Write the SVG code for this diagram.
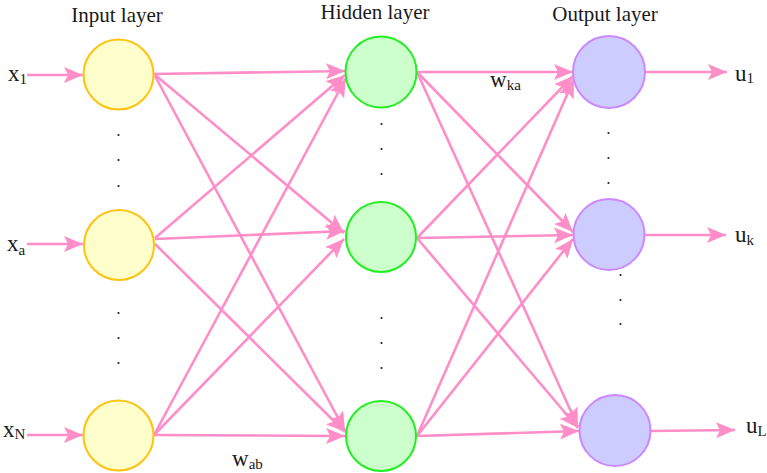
<svg xmlns="http://www.w3.org/2000/svg" width="767" height="473" viewBox="0 0 767 473">
<defs>
<marker id="ah" markerUnits="userSpaceOnUse" markerWidth="22" markerHeight="18" refX="19" refY="8" orient="auto">
<path d="M0,0 L19,8 L0,16 L4,8 z" fill="#FF8DC8"/>
</marker>
<style>
.c{stroke:#FF8DC8;stroke-width:2.6;fill:none;marker-end:url(#ah)}
.in{fill:#FFFFCC;stroke:#FFC20E;stroke-width:2}
.hid{fill:#CCFFCC;stroke:#22EE22;stroke-width:2}
.out{fill:#CCCCFF;stroke:#CC88FF;stroke-width:2}
.t{font-family:"Liberation Serif","Times New Roman",serif;fill:#1a1a1a}
.h{font-size:21px}
.m{font-size:23px}
.s{font-size:15px}
.d{fill:#222}
</style>
</defs>
<rect width="767" height="473" fill="#fff"/>
<g id="connectors">
<line class="c" x1="27" y1="75" x2="83" y2="75"/>
<line class="c" x1="27" y1="244" x2="83" y2="244"/>
<line class="c" x1="27" y1="435" x2="83" y2="435"/>
<line class="c" x1="154" y1="74" x2="345" y2="71"/>
<line class="c" x1="154" y1="74" x2="344" y2="233"/>
<line class="c" x1="154" y1="74" x2="345" y2="431"/>
<line class="c" x1="155" y1="238" x2="345" y2="75"/>
<line class="c" x1="155" y1="239" x2="345" y2="231"/>
<line class="c" x1="155" y1="244" x2="345" y2="432"/>
<line class="c" x1="154" y1="435" x2="346" y2="78"/>
<line class="c" x1="154" y1="435" x2="344" y2="239"/>
<line class="c" x1="154" y1="435" x2="345" y2="436"/>
<line class="c" x1="417" y1="72" x2="573" y2="72"/>
<line class="c" x1="417" y1="72" x2="573" y2="232"/>
<line class="c" x1="417" y1="72" x2="578" y2="427"/>
<line class="c" x1="417" y1="238" x2="573" y2="76"/>
<line class="c" x1="417" y1="238" x2="573" y2="235"/>
<line class="c" x1="417" y1="238" x2="578" y2="428"/>
<line class="c" x1="417" y1="436" x2="574" y2="79"/>
<line class="c" x1="417" y1="436" x2="573" y2="239"/>
<line class="c" x1="417" y1="436" x2="579" y2="431"/>
<line class="c" x1="645" y1="72" x2="727" y2="72"/>
<line class="c" x1="645" y1="235" x2="726" y2="235"/>
<line class="c" x1="651" y1="431" x2="735" y2="430"/>
</g>
<g id="input1"><circle class="in" cx="118.5" cy="74.5" r="35"/></g>
<g id="inputa"><circle class="in" cx="119" cy="245" r="35"/></g>
<g id="inputN"><circle class="in" cx="118.5" cy="435.5" r="35"/></g>
<g id="hidden1"><circle class="hid" cx="381" cy="72" r="35.5"/></g>
<g id="hidden2"><circle class="hid" cx="381" cy="237" r="35"/></g>
<g id="hidden3"><circle class="hid" cx="381" cy="436" r="35"/></g>
<g id="output1"><circle class="out" cx="609" cy="72" r="36"/></g>
<g id="outputk"><circle class="out" cx="609" cy="234.5" r="35.5"/></g>
<g id="outputL"><circle class="out" cx="615" cy="430.5" r="35.5"/></g>
<g id="dots">
<circle class="d" cx="118.5" cy="135" r="1.1"/>
<circle class="d" cx="118.5" cy="160" r="1.1"/>
<circle class="d" cx="118.5" cy="186" r="1.1"/>
<circle class="d" cx="118.5" cy="313" r="1.1"/>
<circle class="d" cx="118.5" cy="338" r="1.1"/>
<circle class="d" cx="118.5" cy="363" r="1.1"/>
<circle class="d" cx="381.5" cy="124" r="1.1"/>
<circle class="d" cx="381.5" cy="149" r="1.1"/>
<circle class="d" cx="381.5" cy="174" r="1.1"/>
<circle class="d" cx="381.5" cy="318" r="1.1"/>
<circle class="d" cx="381.5" cy="343" r="1.1"/>
<circle class="d" cx="381.5" cy="368" r="1.1"/>
<circle class="d" cx="608.5" cy="133" r="1.1"/>
<circle class="d" cx="608.5" cy="158" r="1.1"/>
<circle class="d" cx="608.5" cy="183" r="1.1"/>
<circle class="d" cx="620.5" cy="275" r="1.1"/>
<circle class="d" cx="620.5" cy="300" r="1.1"/>
<circle class="d" cx="620.5" cy="324" r="1.1"/>
</g>
<g id="labels">
<text class="t h" x="117" y="22" text-anchor="middle">Input layer</text>
<text class="t h" x="375" y="19" text-anchor="middle">Hidden layer</text>
<text class="t h" x="605" y="21" text-anchor="middle">Output layer</text>
<text class="t m" x="8" y="81">x<tspan class="s" dy="3">1</tspan></text>
<text class="t m" x="7" y="251">x<tspan class="s" dy="4">a</tspan></text>
<text class="t m" x="3" y="437">x<tspan class="s" dy="2">N</tspan></text>
<text class="t m" x="735" y="81">u<tspan class="s" dy="2">1</tspan></text>
<text class="t m" x="735" y="242">u<tspan class="s" dy="3">k</tspan></text>
<text class="t m" x="746" y="433">u<tspan class="s" dy="3">L</tspan></text>
<text class="t m" x="490" y="87">w<tspan class="s" dy="3">ka</tspan></text>
<text class="t m" x="232" y="466">w<tspan class="s" dy="3">ab</tspan></text>
</g>
</svg>
